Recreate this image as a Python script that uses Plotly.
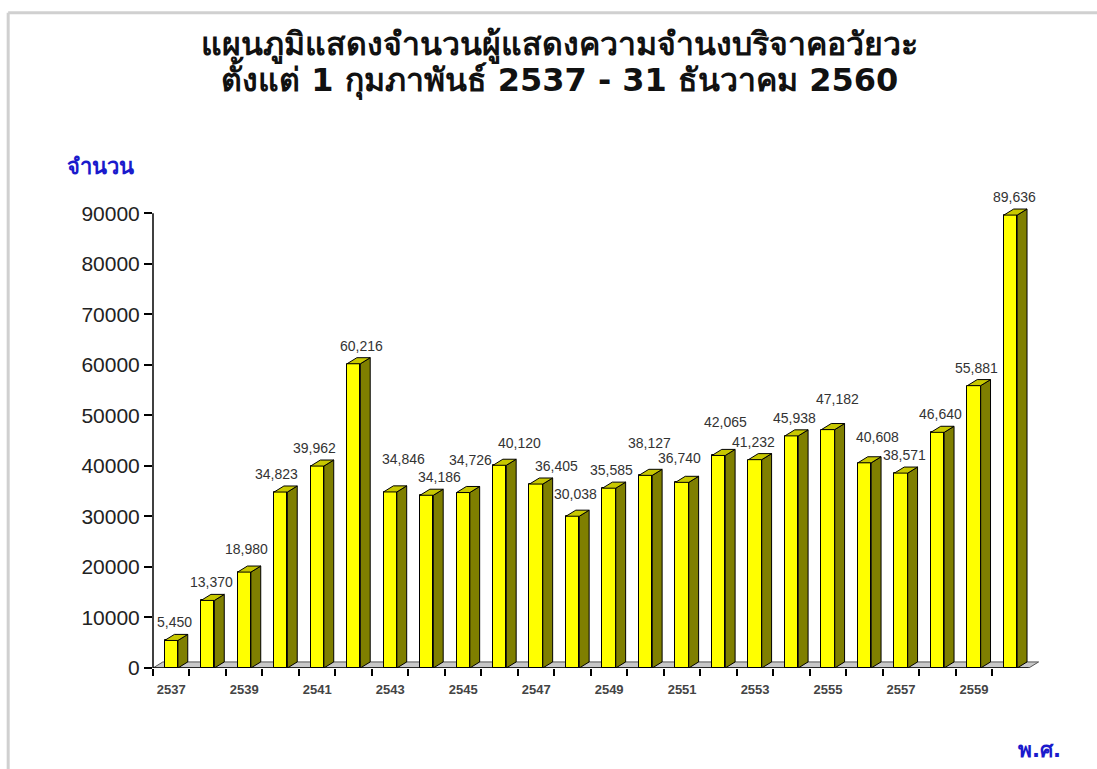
import plotly.graph_objects as go

years = [str(y) for y in range(2537, 2561)]
values = [5450, 13370, 18980, 34823, 39962, 60216, 34846, 34186, 34726, 40120,
          36405, 30038, 35585, 38127, 36740, 42065, 41232, 45938, 47182, 40608,
          38571, 46640, 55881, 89636]
tick_years = years[::2]
y_ticks = list(range(0, 90001, 10000))

title_lines = ["แผนภูมิแสดงจำนวนผู้แสดงความจำนงบริจาคอวัยวะ",
               "ตั้งแต่ 1 กุมภาพันธ์ 2537 - 31 ธันวาคม 2560"]
y_title = "จำนวน"
x_title = "พ.ศ."

# label placement style (pixel shifts so labels do not collide, as in the original)
label_xshift = [3, 4, 2, -4, -3, 8, 13, 13, 7, 20, 20, 3, 2, 4, -3, 7, -2, 3, 9, 13, 3, 3, 2, 4]
label_raise = [0, 0, 5, 0, 0, 0, 15, 0, 15, 4, 0, 4, 0, 14, 6, 15, 0, 0, 13, 8, 0, 0, 0, 0]

n = len(values)
xs = list(range(n))
W = 0.365      # front face width (category units)
DX = 0.27      # depth offset in x
DY = 1200      # depth offset in y (data units)

fig = go.Figure()

# front faces
fig.add_trace(go.Bar(x=xs, y=values, width=W,
                     marker=dict(color="#ffff00", line=dict(color="#000000", width=1)),
                     hoverinfo="skip", showlegend=False))

# side faces and top faces built from values
sx, sy, tx, ty = [], [], [], []
for x, v in zip(xs, values):
    r = x + W / 2
    l = x - W / 2
    sx += [r, r, r + DX, r + DX, r, None]
    sy += [0, v, v + DY, DY, 0, None]
    tx += [l, r, r + DX, l + DX, l, None]
    ty += [v, v, v + DY, v + DY, v, None]

fig.add_trace(go.Scatter(x=sx, y=sy, mode="lines", fill="toself",
                         fillcolor="#7f7f00", line=dict(color="#000000", width=1),
                         hoverinfo="skip", showlegend=False))
fig.add_trace(go.Scatter(x=tx, y=ty, mode="lines", fill="toself",
                         fillcolor="#c8c800", line=dict(color="#000000", width=1),
                         hoverinfo="skip", showlegend=False))

annotations = []
for x, v, xsft, rs in zip(xs, values, label_xshift, label_raise):
    annotations.append(dict(x=x, y=v, xref="x", yref="y", text=f"{v:,}",
                            showarrow=False, xanchor="center", yanchor="middle",
                            xshift=xsft, yshift=18 + rs,
                            font=dict(family="Liberation Sans, Arial", size=14, color="#333333")))

shapes = []
# floor
x0, x1 = -0.5, n - 0.5
shapes.append(dict(type="path", xref="x", yref="y", layer="below",
                   path=f"M {x0},0 L {x1},0 L {x1 + DX},{DY} L {x0 + DX},{DY} Z",
                   fillcolor="#c8c8c8", line=dict(color="#555555", width=1)))
# y-axis line
shapes.append(dict(type="line", xref="paper", yref="y", x0=0, x1=0, y0=0, y1=90000,
                   line=dict(color="#000000", width=1.5)))
# x-axis front edge
shapes.append(dict(type="line", xref="x", yref="y", x0=x0, x1=x1, y0=0, y1=0,
                   line=dict(color="#000000", width=1.5)))
# page border (top and left)
shapes.append(dict(type="line", xref="paper", yref="paper", x0=-0.162, x1=1.1, y0=1.365, y1=1.365,
                   line=dict(color="#d0d0d0", width=3)))
shapes.append(dict(type="line", xref="paper", yref="paper", x0=-0.162, x1=-0.162, y0=-0.22, y1=1.365,
                   line=dict(color="#d0d0d0", width=3)))

thai_font = "Tahoma, DejaVu Sans, Noto Sans"
annotations += [
    dict(text="<b>" + title_lines[0] + "</b>", xref="paper", yref="paper", x=0.455, y=1.298,
         xanchor="center", yanchor="middle", showarrow=False,
         font=dict(family=thai_font, size=32, color="#111111")),
    dict(text="<b>" + title_lines[1] + "</b>", xref="paper", yref="paper", x=0.455, y=1.229,
         xanchor="center", yanchor="middle", showarrow=False,
         font=dict(family=thai_font, size=32, color="#111111")),
    dict(text="<b>" + y_title + "</b>", xref="paper", yref="paper", x=-0.059, y=1.045,
         xanchor="center", yanchor="middle", showarrow=False,
         font=dict(family=thai_font, size=22, color="#1a1acc")),
    dict(text="<b>" + x_title + "</b>", xref="paper", yref="paper", x=0.992, y=-0.17,
         xanchor="center", yanchor="middle", showarrow=False,
         font=dict(family=thai_font, size=21, color="#1a1acc")),
]

fig.update_layout(
    width=1097, height=769,
    margin=dict(l=153, r=50, t=188, b=101),
    paper_bgcolor="white", plot_bgcolor="white",
    showlegend=False, bargap=0,
    shapes=shapes, annotations=annotations,
    xaxis=dict(range=[-0.5, n], tickmode="array",
               tickvals=list(range(0, n, 2)), ticktext=tick_years,
               showgrid=False, zeroline=False, showline=False,
               ticks="", ticklabelstandoff=12,
               tickfont=dict(family="Liberation Sans, Arial", size=13, color="#444444",
                             weight="bold"),
               minor=dict(tickmode="array", tickvals=[i - 0.5 for i in range(n)],
                          ticks="outside", ticklen=7, tickcolor="#000000",
                          tickwidth=1.5, showgrid=False)),
    yaxis=dict(range=[0, 95000], tickmode="array",
               tickvals=y_ticks, ticktext=[str(t) for t in y_ticks],
               showgrid=False, zeroline=False, showline=False,
               ticks="outside", ticklen=8, tickcolor="#000000", tickwidth=1.5,
               tickfont=dict(family="Liberation Sans, Arial", size=21, color="#222222")),
)

fig.write_html("out.html")
